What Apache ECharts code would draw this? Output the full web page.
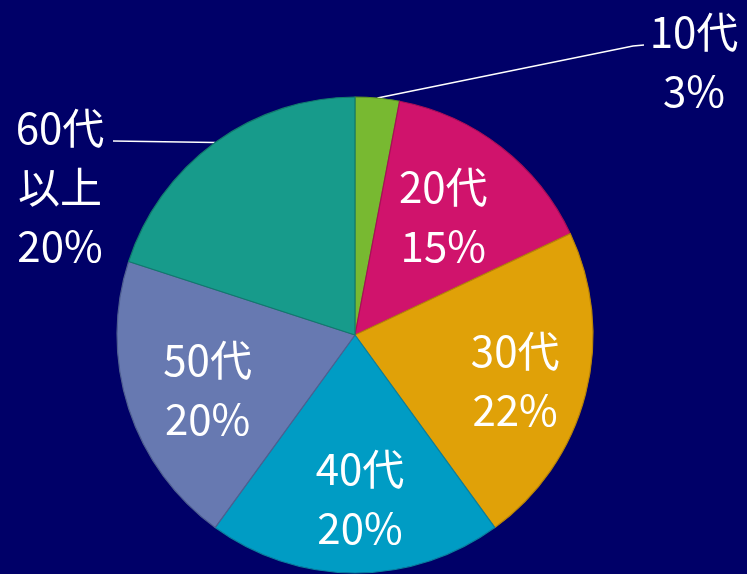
<!DOCTYPE html>
<html>
<head>
<meta charset="utf-8">
<script src="https://cdn.jsdelivr.net/npm/echarts@6/dist/echarts.min.js"></script>
<style>
  html, body { margin: 0; padding: 0; background: #000068; }
  #chart { width: 747px; height: 574px; }
</style>
</head>
<body>
<div id="chart"></div>
<script>
// Age groups and their share of respondents (%)
const categories = ['10代', '20代', '30代', '40代', '50代', '60代\n以上'];
const shares = [3, 15, 22, 20, 20, 20];
const sliceColors = ['#78b931', '#d0136c', '#e0a108', '#009cc4', '#6779b1', '#179b8b'];
const edgeColors = ['#5f9524', '#a80f57', '#b88407', '#0a7f9e', '#4f5f91', '#117a6d'];

const CENTER = [355, 335];
const RADIUS = 238;
const INSIDE_FRACTION = 0.66;
// small horizontal nudges for the labels drawn inside the slices
const insideNudgeX = [0, -8, 8, 5, 2, 0];

const total = shares.reduce((a, b) => a + b, 0);
// mid angle of every slice, clockwise from 12 o'clock, in radians
const midAngles = [];
let acc = 0;
shares.forEach(v => {
  midAngles.push(((acc + v / 2) / total) * Math.PI * 2);
  acc += v;
});
const polar = (ang, r) => [CENTER[0] + r * Math.sin(ang), CENTER[1] - r * Math.cos(ang)];

const outsideIdx = [0, 5];

const chart = echarts.init(document.getElementById('chart'), null, { renderer: 'canvas' });
chart.setOption({
  backgroundColor: '#000068',
  animation: false,
  series: [{
    type: 'pie',
    center: CENTER,
    radius: RADIUS,
    startAngle: 90,
    clockwise: true,
    data: categories.map((name, i) => ({
      name: name,
      value: shares[i],
      itemStyle: { color: sliceColors[i], borderColor: edgeColors[i], borderWidth: 1.2 },
      label: { position: outsideIdx.includes(i) ? 'outside' : 'inside' },
      labelLine: { show: outsideIdx.includes(i) }
    })),
    label: {
      show: true,
      formatter: '{b}\n{c}%',
      color: '#ffffff',
      fontSize: 42,
      lineHeight: 59,
      fontFamily: "'Noto Sans CJK JP', 'Noto Sans', sans-serif",
      align: 'center'
    },
    labelLine: {
      lineStyle: { color: '#ffffff', width: 1.5 }
    },
    labelLayout: function (p) {
      const i = p.dataIndex;
      const edge = polar(midAngles[i], RADIUS);
      if (i === 0) {
        return {
          x: 694, y: 62, align: 'center', verticalAlign: 'middle',
          labelLinePoints: [edge, [633, 46], [644, 45]]
        };
      }
      if (i === 5) {
        return {
          x: 60, y: 187, align: 'center', verticalAlign: 'middle',
          labelLinePoints: [edge, [113, 141], [113, 141]]
        };
      }
      const pos = polar(midAngles[i], RADIUS * INSIDE_FRACTION);
      return { x: pos[0] + insideNudgeX[i], y: pos[1] + 6, align: 'center', verticalAlign: 'middle' };
    }
  }]
});
</script>
</body>
</html>
